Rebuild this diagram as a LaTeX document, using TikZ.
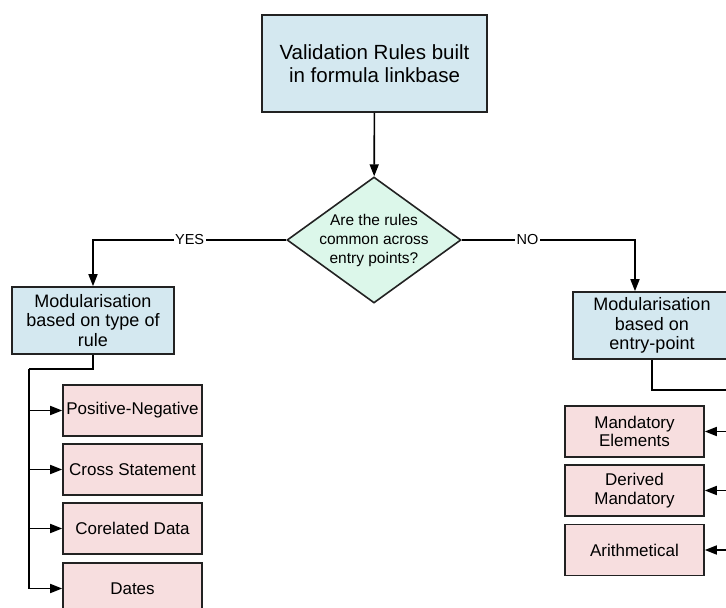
\documentclass[tikz,border=0pt]{standalone}
\usepackage{fontspec}
\setmainfont{Liberation Sans}
\usepackage{xcolor}
\usetikzlibrary{shapes.geometric, arrows.meta, positioning, calc}

\definecolor{topblue}{HTML}{D4E8F0}
\definecolor{askgreen}{HTML}{DCF7EA}
\definecolor{rulepink}{HTML}{F7DEDF}
\definecolor{edgegray}{HTML}{222222}

\begin{document}
\begin{tikzpicture}[x=1pt, y=-1pt,
    blockbox/.style={rectangle, draw=edgegray, line width=1.6pt, fill=topblue,
          align=center, inner sep=2pt},
    rulebox/.style={rectangle, draw=edgegray, line width=1.6pt, fill=rulepink,
          minimum width=139pt, minimum height=51pt, align=center, inner sep=1pt,
          font=\fontsize{17}{18.5}\selectfont},
    decision/.style={diamond, draw=edgegray, line width=1.6pt, fill=askgreen,
          minimum width=174pt, minimum height=126pt, inner sep=0pt},
    arrow/.style={line width=1.6pt, -{Triangle[length=12pt, width=9pt]}},
    link/.style={line width=1.6pt},
    branchlabel/.style={fill=white, inner sep=1.5pt, font=\fontsize{14.5}{16}\selectfont}]
    \clip (0,0) rectangle (726,608);

    % main question
    \node[blockbox, minimum width=225pt, minimum height=97pt,
          font=\fontsize{20.5}{23}\selectfont] (top) at (374.5,63.5)
          {Validation Rules built\\in formula linkbase};
    \node[decision,
          label={[align=center, font=\fontsize{15.5}{19}\selectfont]center:Are the rules\\common across\\entry points?}]
          (common) at (374,240) {};

    % two ways of splitting
    \node[blockbox, minimum width=162pt, minimum height=67pt,
          font=\fontsize{18}{19.5}\selectfont] (bytype) at (93,320.5)
          {Modularisation\\based on type of\\rule};
    \node[blockbox, minimum width=158pt, minimum height=67pt,
          font=\fontsize{18}{19.5}\selectfont] (byentry) at (652,325.5)
          {Modularisation\\based on\\entry-point};

    % rule types
    \node[rulebox] (posneg) at (132.5,410.5) {Positive-Negative};
    \node[rulebox] (cross) at (132.5,469.5) {Cross Statement};
    \node[rulebox] (corel) at (132.5,528.5) {Corelated Data};
    \node[rulebox] (dates) at (132.5,588.5) {Dates};

    % entry-point checks
    \node[rulebox] (mandel) at (634.5,431.5) {Mandatory\\Elements};
    \node[rulebox] (derived) at (634.5,490.5) {Derived\\Mandatory};
    \node[rulebox] (arith) at (634.5,550) {Arithmetical};

    \coordinate (typejoin) at (29,369);
    \coordinate (nojoin) at (635,240);
    \coordinate (entryjoin) at (745,390);

    \draw[arrow] (top) -- (common);
    \draw[arrow] (common.west) -| node[branchlabel, pos=0.25] {YES} (bytype.north);
    \draw[arrow] (common.east) -- node[branchlabel, pos=0.38] {NO} (nojoin)
          -- (nojoin |- byentry.north);

    \draw[link] (bytype.south) |- (typejoin);
    \foreach \target in {posneg, cross, corel, dates}
        \draw[arrow] (typejoin) |- (\target.west);

    \draw[link] (byentry.south) |- (entryjoin);
    \foreach \target in {mandel, derived, arith}
        \draw[arrow] (entryjoin) |- (\target.east);
\end{tikzpicture}
\end{document}
